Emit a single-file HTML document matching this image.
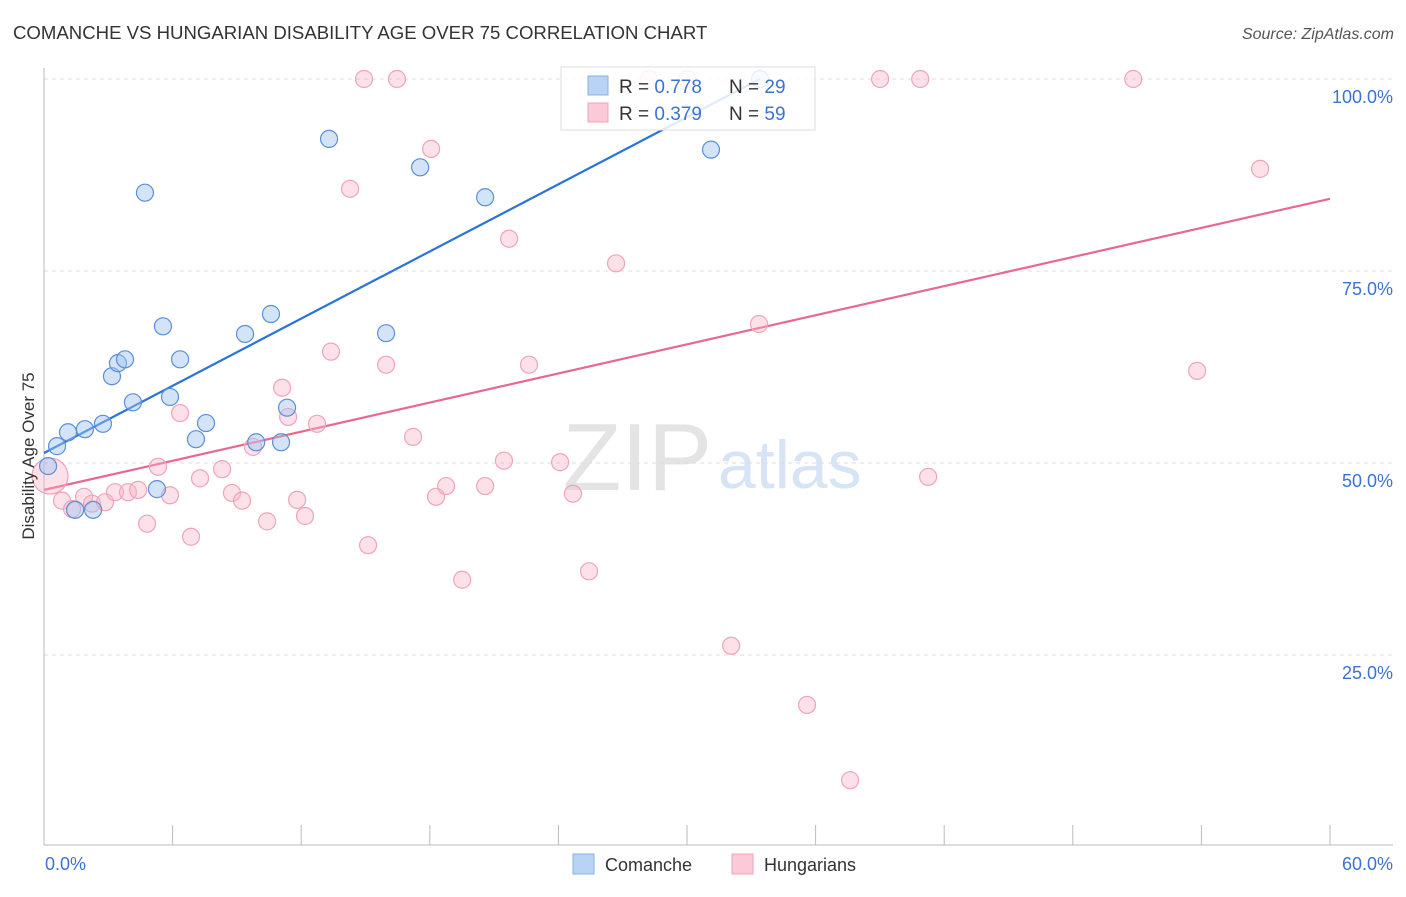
<!DOCTYPE html>
<html><head><meta charset="utf-8"><style>
body{margin:0;background:#fff;font-family:"Liberation Sans",sans-serif}
svg text{font-family:"Liberation Sans",sans-serif}
</style></head><body>
<svg id="chart" width="1406" height="892">
<text x="13" y="39" font-size="18.6" fill="#333">COMANCHE VS HUNGARIAN DISABILITY AGE OVER 75 CORRELATION CHART</text>
<text x="1394" y="39" font-size="16" fill="#555" text-anchor="end" font-style="italic">Source: ZipAtlas.com</text>
<text x="712" y="490" font-size="96" fill="#e4e4e4" text-anchor="end" font-family="Liberation Serif">ZIP</text>
<text x="718" y="488" font-size="68" fill="#d6e4f5">atlas</text>
<g id="grid"></g><g id="axes"></g><g id="lines"></g><g id="pts"></g>
<text transform="translate(34,456) rotate(-90)" font-size="17" fill="#333" text-anchor="middle">Disability Age Over 75</text>
<text x="45" y="870" font-size="18" fill="#3b73d1">0.0%</text>
<text x="1393" y="870" font-size="18" fill="#3b73d1" text-anchor="end">60.0%</text>
<g>
<rect x="561" y="67" width="254" height="63" fill="#fff" fill-opacity="0.85" stroke="#ddd"/>
<rect x="588" y="76" width="20" height="19" fill="#b9d3f5" stroke="#8ab0e6"/>
<rect x="588" y="103" width="20" height="19" fill="#fbc9d7" stroke="#f0a3bb"/>
<text x="619" y="93" font-size="19" fill="#333">R = <tspan fill="#3b73d1">0.778</tspan><tspan x="729">N = </tspan><tspan fill="#3b73d1">29</tspan></text>
<text x="619" y="120" font-size="19" fill="#333">R = <tspan fill="#3b73d1">0.379</tspan><tspan x="729">N = </tspan><tspan fill="#3b73d1">59</tspan></text>
</g>
<g><rect x="573" y="854" width="21" height="20" fill="#b9d3f5" stroke="#8ab0e6"/><text x="605" y="871" font-size="18" fill="#333">Comanche</text></g>
<g><rect x="732" y="854" width="21" height="20" fill="#fbc9d7" stroke="#f0a3bb"/><text x="764" y="871" font-size="18" fill="#333">Hungarians</text></g>
</svg>
<script>
const yTicks=[25,50,75,100];
const yTickLabels=["25.0%","50.0%","75.0%","100.0%"];
const xTicks=[0,6,12,18,24,30,36,42,48,54,60];
const comancheX=[0.19,0.61,1.12,1.91,2.75,1.45,2.29,3.17,3.45,3.78,4.15,4.71,5.27,5.55,5.88,6.35,7.09,7.56,9.38,9.90,10.59,11.06,11.34,13.30,15.96,17.55,20.58,31.12,33.41];
const comancheY=[49.6,52.2,54.0,54.4,55.1,43.9,43.9,61.3,63.0,63.5,57.9,85.2,46.6,67.8,58.6,63.5,53.1,55.2,66.8,52.7,69.4,52.7,57.2,92.2,66.9,88.5,84.6,90.8,100];
const hungX=[0.28,0.84,1.31,1.87,2.24,2.85,3.31,3.92,4.39,4.81,5.32,5.88,6.35,6.86,7.28,8.31,8.77,9.24,9.75,10.41,11.11,11.39,11.81,12.18,12.74,13.39,14.28,14.93,15.12,15.96,16.47,17.22,18.06,18.29,18.76,19.51,20.58,21.46,21.70,22.63,24.08,24.68,25.43,26.69,28.23,30.00,32.06,33.36,35.60,37.61,39.01,40.88,41.25,50.82,53.80,56.74];
const hungY=[48.3,45.1,44.0,45.6,44.7,44.9,46.2,46.2,46.5,42.1,49.5,45.8,56.5,40.4,48.0,49.2,46.1,45.1,52.1,42.4,59.8,56.0,45.2,43.1,55.1,64.5,85.7,100,39.3,62.8,100,53.4,90.9,45.6,47.0,34.8,47.0,50.3,79.2,62.8,50.1,46.0,35.9,76.0,100,100,26.2,68.1,18.5,8.7,100,100,48.2,100,62.0,88.3];
const comancheTrend=[[0,51.3],[33.4,100]];
const hungTrend=[[0,46.5],[60,84.4]];
const X=v=>44+v/60*1286, Y=v=>847-v*7.68;
const NS="http://www.w3.org/2000/svg";
function mk(tag,attrs,parent){const e=document.createElementNS(NS,tag);for(const k in attrs)e.setAttribute(k,attrs[k]);document.getElementById(parent).appendChild(e);return e;}
yTicks.forEach((t,i)=>{
 const l=mk('line',{x1:44,x2:1393,y1:Y(t),y2:Y(t),stroke:'#ddd','stroke-dasharray':'4,4'},'grid');
 
 
 const tx=mk('text',{x:1393,y:Y(t)+24,'font-size':18,fill:'#3b73d1','text-anchor':'end'},'grid');tx.textContent=yTickLabels[i];
 
 
});
const ax=mk('line',{x1:44,x2:1393,y1:845,y2:845,stroke:'#bbb'},'axes');


const ay=mk('line',{x1:44,x2:44,y1:68,y2:845,stroke:'#bbb'},'axes');


xTicks.forEach(t=>{const l=mk('line',{x1:X(t),x2:X(t),y1:825,y2:845,stroke:'#bbb'},'axes');
 
 });
function pts(xs,ys,fill,stroke,name){xs.forEach((x,i)=>{const c=mk('circle',{cx:X(x),cy:Y(ys[i]),r:8.5,fill:fill,stroke:stroke,'stroke-width':1.2},'pts');
 
 });}
pts(hungX,hungY,'rgba(248,180,200,0.4)','#f0a3bb','hungarian-point');
pts(comancheX,comancheY,'rgba(160,196,240,0.45)','#5b8fd9','comanche-point');
const big=document.querySelector('#pts circle');big.setAttribute('r',18);
const l1=mk('line',{x1:X(comancheTrend[0][0]),y1:Y(comancheTrend[0][1]),x2:X(comancheTrend[1][0]),y2:Y(comancheTrend[1][1]),stroke:'#2a74d8','stroke-width':2.2},'lines');


const l2=mk('line',{x1:X(hungTrend[0][0]),y1:Y(hungTrend[0][1]),x2:X(hungTrend[1][0]),y2:Y(hungTrend[1][1]),stroke:'#e8688f','stroke-width':2.2},'lines');


</script>
</body></html>
